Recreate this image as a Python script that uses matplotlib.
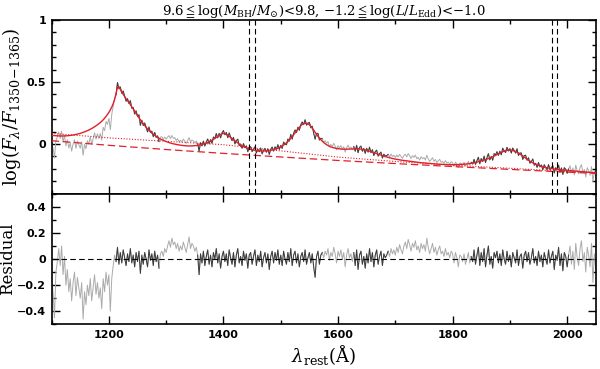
import numpy as np
import matplotlib
matplotlib.use("Agg")
import matplotlib.pyplot as plt
from matplotlib.ticker import MultipleLocator

plt.rcParams['mathtext.fontset'] = 'dejavuserif'

# ---------------- data ----------------
wave_start, wave_step = 1100.0, 2.5
model = [
    0.070, 0.069, 0.068, 0.067, 0.066, 0.0655, 0.065, 0.065, 0.065, 0.0655, 0.066, 0.067, 0.068, 0.0695, 0.071, 0.073, 0.075, 0.0775, 0.080, 0.083,
    0.086, 0.090, 0.094, 0.0985, 0.103, 0.108, 0.113, 0.119, 0.125, 0.132, 0.139, 0.147, 0.155, 0.164, 0.173, 0.184, 0.195, 0.208, 0.222, 0.238,
    0.255, 0.275, 0.298, 0.325, 0.360, 0.405, 0.460, 0.462, 0.440, 0.420, 0.400, 0.382, 0.365, 0.350, 0.335, 0.318, 0.300, 0.283, 0.265, 0.248,
    0.230, 0.212, 0.195, 0.180, 0.165, 0.150, 0.135, 0.122, 0.110, 0.099, 0.088, 0.079, 0.070, 0.062, 0.054, 0.047, 0.040, 0.035, 0.030, 0.025,
    0.020, 0.016, 0.012, 0.008, 0.005, 0.002, 0.000, -0.003, -0.005, -0.007, -0.009, -0.011, -0.012, -0.013, -0.014, -0.015, -0.015, -0.015, -0.015, -0.014,
    -0.013, -0.012, -0.010, -0.008, -0.005, -0.003, 0.000, 0.004, 0.008, 0.013, 0.018, 0.024, 0.030, 0.037, 0.045, 0.053, 0.062, 0.070, 0.078, 0.083,
    0.085, 0.083, 0.078, 0.071, 0.062, 0.053, 0.043, 0.034, 0.025, 0.016, 0.008, 0.000, -0.008, -0.014, -0.020, -0.025, -0.030, -0.034, -0.038, -0.042,
    -0.045, -0.048, -0.050, -0.052, -0.053, -0.054, -0.055, -0.055, -0.055, -0.055, -0.054, -0.053, -0.052, -0.050, -0.048, -0.045, -0.042, -0.038, -0.033, -0.028,
    -0.022, -0.015, -0.008, 0.001, 0.010, 0.021, 0.032, 0.046, 0.060, 0.075, 0.090, 0.105, 0.120, 0.135, 0.148, 0.158, 0.165, 0.168, 0.168, 0.164,
    0.155, 0.143, 0.128, 0.112, 0.095, 0.078, 0.062, 0.048, 0.035, 0.023, 0.012, 0.003, -0.005, -0.012, -0.018, -0.023, -0.027, -0.030, -0.033, -0.035,
    -0.037, -0.039, -0.040, -0.041, -0.041, -0.041, -0.041, -0.041, -0.040, -0.040, -0.039, -0.039, -0.038, -0.038, -0.038, -0.039, -0.040, -0.042, -0.044, -0.047,
    -0.050, -0.053, -0.057, -0.061, -0.065, -0.069, -0.073, -0.077, -0.081, -0.085, -0.089, -0.093, -0.097, -0.101, -0.104, -0.107, -0.110, -0.113, -0.116, -0.119,
    -0.121, -0.123, -0.125, -0.127, -0.129, -0.131, -0.132, -0.134, -0.135, -0.137, -0.138, -0.140, -0.141, -0.143, -0.144, -0.146, -0.147, -0.149, -0.150, -0.151,
    -0.152, -0.153, -0.154, -0.155, -0.156, -0.157, -0.158, -0.159, -0.160, -0.161, -0.162, -0.163, -0.163, -0.164, -0.164, -0.165, -0.165, -0.166, -0.166, -0.166,
    -0.166, -0.166, -0.166, -0.166, -0.165, -0.165, -0.164, -0.163, -0.162, -0.161, -0.160, -0.159, -0.157, -0.155, -0.153, -0.151, -0.148, -0.145, -0.142, -0.139,
    -0.136, -0.133, -0.129, -0.125, -0.121, -0.117, -0.112, -0.107, -0.102, -0.097, -0.091, -0.085, -0.079, -0.073, -0.067, -0.061, -0.056, -0.052, -0.050, -0.048,
    -0.048, -0.049, -0.052, -0.056, -0.060, -0.066, -0.072, -0.080, -0.088, -0.096, -0.105, -0.114, -0.122, -0.130, -0.138, -0.145, -0.152, -0.158, -0.163, -0.168,
    -0.172, -0.176, -0.180, -0.183, -0.186, -0.189, -0.191, -0.193, -0.195, -0.197, -0.199, -0.201, -0.202, -0.204, -0.205, -0.207, -0.208, -0.209, -0.210, -0.211,
    -0.212, -0.213, -0.214, -0.215, -0.216, -0.217, -0.218, -0.219, -0.220, -0.221, -0.222, -0.223, -0.224, -0.225, -0.226, -0.227, -0.228, -0.229, -0.230, -0.231,
    -0.232,
]
residual = [
    -0.15, -0.25, -0.45, -0.10, -0.02, 0.08, -0.05, 0.10, -0.12, 0.02, -0.20, -0.08, -0.25, -0.15, -0.32, -0.18, -0.10, -0.28, -0.14, -0.22,
    -0.30, -0.18, -0.46, -0.25, -0.35, -0.20, -0.28, -0.15, -0.32, -0.22, -0.12, -0.27, -0.18, -0.30, -0.22, -0.38, -0.15, -0.25, -0.10, -0.20,
    -0.12, -0.40, -0.15, -0.05, 0.03, -0.02, 0.09, -0.04, 0.05, -0.03, 0.07, 0.01, -0.05, 0.04, -0.02, 0.08, -0.03, 0.03, -0.06, 0.05,
    -0.02, 0.06, -0.11, 0.03, -0.04, 0.05, 0.00, -0.06, 0.07, -0.01, 0.04, -0.05, 0.06, -0.02, 0.03, -0.07, 0.04, 0.06, 0.02, 0.08,
    0.05, 0.10, 0.14, 0.09, 0.16, 0.11, 0.13, 0.08, 0.12, 0.06, 0.10, 0.07, 0.13, 0.09, 0.05, 0.11, 0.17, 0.08, 0.12, 0.10,
    0.06, 0.09, 0.03, -0.12, 0.04, -0.03, 0.06, -0.05, 0.02, 0.07, -0.04, 0.03, -0.06, 0.05, 0.00, 0.08, -0.03, 0.04, -0.07, 0.02,
    0.06, -0.02, 0.04, -0.05, 0.07, 0.01, -0.04, 0.05, -0.06, 0.03, 0.08, -0.03, 0.02, -0.05, 0.06, -0.01, 0.04, -0.07, 0.03, 0.05,
    -0.04, 0.02, 0.07, -0.05, 0.03, -0.02, 0.06, -0.06, 0.01, 0.05, -0.03, 0.04, -0.08, 0.02, 0.06, -0.03, 0.05, -0.01, 0.07, -0.04,
    0.03, -0.05, 0.06, 0.00, -0.04, 0.05, -0.02, 0.08, -0.05, 0.03, 0.06, -0.03, 0.04, -0.06, 0.02, 0.05, -0.02, 0.07, -0.04, 0.01,
    0.05, -0.03, 0.04, -0.06, -0.14, 0.02, 0.06, -0.04, 0.03, 0.05, 0.01, 0.06, 0.03, 0.08, -0.01, 0.05, 0.02, 0.09, 0.04, -0.03,
    0.06, 0.02, 0.07, 0.00, 0.05, -0.06, 0.03, 0.08, 0.01, 0.04, -0.02, 0.05, -0.05, 0.07, -0.08, 0.03, 0.06, -0.04, 0.02, -0.07,
    0.04, -0.03, 0.08, -0.02, 0.05, -0.06, 0.03, 0.07, -0.04, 0.02, 0.06, -0.05, 0.04, 0.01, 0.03, 0.06, 0.02, 0.08, 0.04, 0.07,
    0.03, 0.09, 0.05, 0.11, 0.07, 0.04, 0.10, 0.13, 0.08, 0.15, 0.11, 0.06, 0.12, 0.09, 0.14, 0.07, 0.10, 0.05, 0.12, 0.08,
    0.11, 0.06, 0.16, 0.09, 0.04, 0.08, 0.12, 0.05, 0.09, 0.03, 0.07, 0.10, 0.04, 0.06, 0.02, 0.08, 0.03, 0.05, 0.01, 0.06,
    0.04, -0.03, 0.05, 0.01, -0.06, 0.03, 0.02, -0.02, 0.04, -0.04, 0.00, 0.05, -0.03, 0.02, -0.02, 0.07, -0.04, 0.03, 0.09, -0.05,
    0.05, -0.02, 0.08, -0.06, 0.03, 0.10, -0.04, 0.02, -0.07, 0.05, 0.01, 0.06, -0.03, 0.04, -0.05, 0.07, 0.00, -0.04, 0.06, -0.02,
    0.03, -0.06, 0.05, 0.01, -0.03, 0.07, -0.05, 0.02, 0.04, -0.07, 0.03, 0.06, -0.02, 0.05, -0.04, 0.01, 0.08, -0.03, 0.02, -0.05,
    0.06, -0.02, 0.03, -0.06, 0.05, 0.00, -0.04, 0.07, -0.03, 0.02, 0.06, -0.08, 0.03, -0.01, 0.09, -0.05, 0.04, -0.09, 0.05, 0.02,
    -0.06, 0.03, 0.10, -0.04, 0.06, -0.08, 0.12, 0.01, -0.05, 0.08, 0.14, -0.02, 0.05, -0.10, 0.09, 0.03, -0.06, 0.12, -0.18, 0.04,
    -0.08,
]
resid_scale = 2.5   # residual units per dex of the upper panel
cont_wave = [1100, 1200, 1300, 1400, 1500, 1600, 1700, 1800, 1900, 2000, 2050]
cont_dashed = [0.027, -0.010, -0.044, -0.075, -0.104, -0.132, -0.157, -0.181, -0.204, -0.226, -0.236]
cont_dotted = [0.086, 0.050, 0.022, -0.005, -0.055, -0.105, -0.140, -0.170, -0.195, -0.220, -0.230]
fit_windows = [(1212, 1288), (1356, 1571), (1629, 1686), (1833, 2001)]
vlines = [1445, 1455, 1973, 1983]
title = (r'9.6$\leqq$log($M_{\rm BH}/M_{\odot}$)<9.8, '
         r'$-$1.2$\leqq$log($L/L_{\rm Edd}$)<$-$1.0')

# ---------------- derived ----------------
model = np.array(model)
residual = np.array(residual)
wave = wave_start + wave_step * np.arange(len(model))
flux = model + residual / resid_scale

dark = np.zeros(len(wave), bool)
for a, b in fit_windows:
    dark |= (wave >= a - 1.5) & (wave <= b + 1.5)

LIGHT = '#ababab'
DARK = '#3c3c3c'
RED = '#e0202a'
LW = 0.7

fig = plt.figure(figsize=(6.0, 3.69), dpi=100)
ax1 = fig.add_axes([0.086, 0.475, 0.907, 0.471])
ax2 = fig.add_axes([0.086, 0.121, 0.907, 0.354], sharex=ax1)

# upper panel
ax1.plot(wave, flux, color=LIGHT, lw=LW, zorder=2)
ax1.plot(wave, np.where(dark, flux, np.nan), color=DARK, lw=LW, zorder=3)
ax1.plot(wave, model, color=RED, lw=1.0, zorder=4)
ax1.plot(cont_wave, cont_dashed, color=RED, lw=0.9, ls=(0, (6, 3)), zorder=4)
ax1.plot(cont_wave, cont_dotted, color=RED, lw=0.8, ls=(0, (1, 1.5)), zorder=4)
for v in vlines:
    ax1.axvline(v, color='black', lw=0.8, ls=(0, (5, 3)), zorder=5)

# lower panel
ax2.plot(wave, residual, color=LIGHT, lw=LW, zorder=2)
ax2.plot(wave, np.where(dark, residual, np.nan), color=DARK, lw=LW, zorder=3)
ax2.axhline(0, color='black', lw=0.8, ls=(0, (5, 3)), zorder=4)

ax1.set_xlim(1100, 2050)
ax1.set_ylim(-0.4, 1.0)
ax2.set_ylim(-0.5, 0.5)

ax1.xaxis.set_major_locator(MultipleLocator(200))
ax1.xaxis.set_minor_locator(MultipleLocator(100))
ax1.yaxis.set_major_locator(MultipleLocator(0.5))
ax1.yaxis.set_minor_locator(MultipleLocator(0.1))
ax2.yaxis.set_major_locator(MultipleLocator(0.2))
ax2.yaxis.set_minor_locator(MultipleLocator(0.1))

def fmt(v, pos):
    if abs(v) < 1e-9:
        return '0'
    return ('%g' % v).replace('-', '\u2212')
ax1.yaxis.set_major_formatter(plt.FuncFormatter(fmt))
ax2.yaxis.set_major_formatter(plt.FuncFormatter(fmt))
ax2.xaxis.set_major_formatter(plt.FuncFormatter(lambda v, p: '%d' % v))

for ax in (ax1, ax2):
    ax.tick_params(which='both', direction='in', top=True, right=True, width=1.0)
    ax.tick_params(which='major', length=6, pad=4)
    ax.tick_params(which='minor', length=3)
    for s in ax.spines.values():
        s.set_linewidth(1.2)
    for lab in ax.get_xticklabels() + ax.get_yticklabels():
        lab.set_fontweight('bold')
        lab.set_fontsize(8)
plt.setp(ax1.get_xticklabels(), visible=False)

ax1.set_ylabel(r'$\log(F_{\lambda}/F_{1350\!-\!1365})$', fontsize=13)
ax1.yaxis.set_label_coords(-0.052, 0.5)
ax2.set_ylabel('Residual', fontsize=12, family='DejaVu Serif')
ax2.yaxis.set_label_coords(-0.066, 0.5)
ax2.set_xlabel(r'$\lambda_{\rm rest}(\mathrm{\AA})$', fontsize=13, labelpad=2)
ax1.set_title(title, fontsize=9.5, pad=3, family='DejaVu Serif')

fig.savefig('out.png', dpi=100)
